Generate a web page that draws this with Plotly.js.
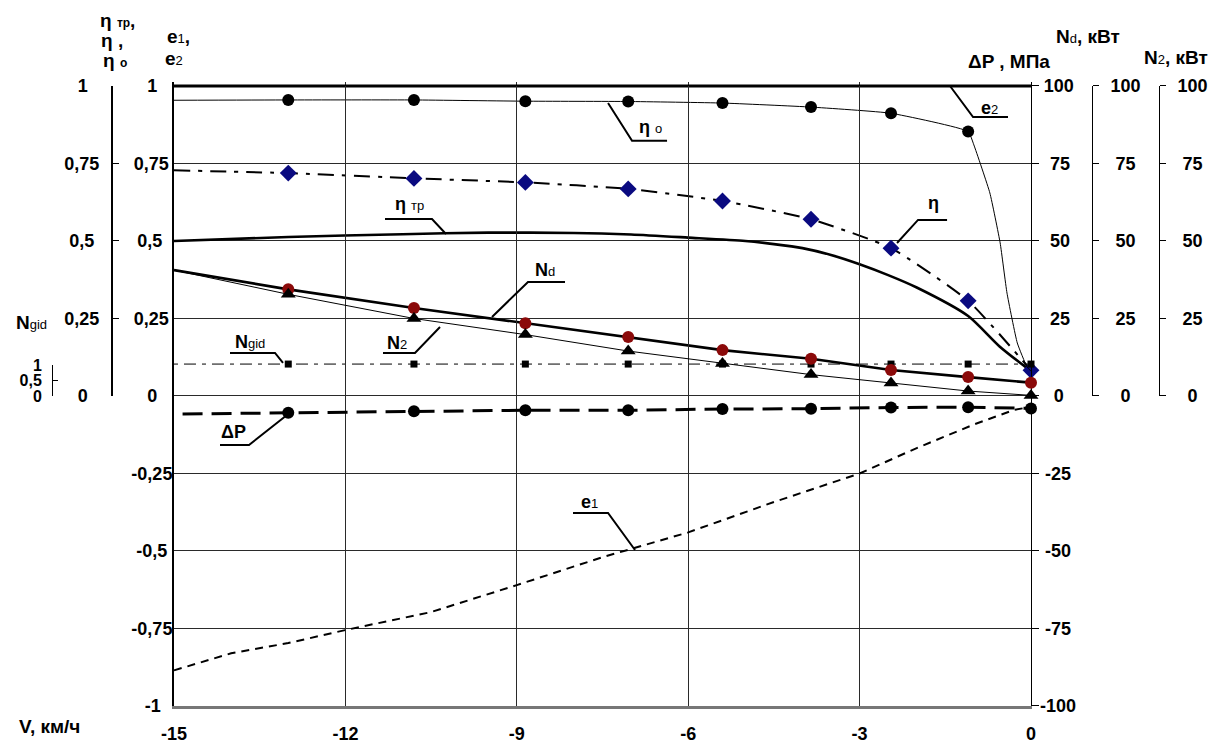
<!DOCTYPE html>
<html><head><meta charset="utf-8">
<script src="https://cdn.plot.ly/plotly-3.0.1.min.js"></script>
<style>body{margin:0;background:#fff}#chart{width:1221px;height:747px}</style>
</head><body><div id="chart"></div>
<script>
// ---------- DATA ----------
const speedTicks = [-15, -12, -9, -6, -3, 0];
const speedTickText = ['-15', '-12', '-9', '-6', '-3', '0'];
const eTickVals = [-1, -0.75, -0.5, -0.25, 0, 0.25, 0.5, 0.75, 1];
const eTickText = ['-1', '-0,75', '-0,5', '-0,25', '0', '0,25', '0,5', '0,75', '1'];
const etaTickVals = [0, 0.25, 0.5, 0.75, 1];
const etaTickText = ['0', '0,25', '0,5', '0,75', '1'];
const ngidTickVals = [0, 0.5, 1];
const ngidTickText = ['0', '0,5', '1'];
const dpTickVals = [-100, -75, -50, -25, 0, 25, 50, 75, 100];
const dpTickText = ['-100', '-75', '-50', '-25', '0', '25', '50', '75', '100'];
const nTickVals = [0, 25, 50, 75, 100];
const nTickText = ['0', '25', '50', '75', '100'];

// measured speeds, km/h
const speedPts = [-13, -10.8, -8.85, -7.05, -5.4, -3.85, -2.45, -1.1, 0];

// η о
const etaO_x = [-15, -13, -10.8, -8.85, -7.05, -5.4, -3.85, -2.45, -1.1, -1.0, -0.72, -0.54, -0.42, -0.24, -0.07, 0];
const etaO_y = [0.954, 0.955, 0.955, 0.951, 0.950, 0.945, 0.932, 0.912, 0.853, 0.81, 0.655, 0.494, 0.332, 0.171, 0.094, 0.08];
const etaO_ptsX = [-13, -10.8, -8.85, -7.05, -5.4, -3.85, -2.45, -1.1];
const etaO_ptsY = [0.955, 0.955, 0.951, 0.950, 0.945, 0.932, 0.912, 0.853];
// η
const eta_x = [-15, -13, -10.8, -8.85, -7.05, -5.4, -3.85, -2.45, -1.1, 0];
const eta_y = [0.728, 0.719, 0.702, 0.689, 0.668, 0.629, 0.570, 0.477, 0.307, 0.083];
const eta_pts = [0.719, 0.702, 0.689, 0.668, 0.629, 0.570, 0.477, 0.307, 0.083];
// η тр
const etaTr_x = [-15, -13, -11, -9.5, -8, -7, -6, -5, -4.5, -4, -3.5, -3, -2.5, -2, -1.1, -0.55, 0];
const etaTr_y = [0.5, 0.513, 0.522, 0.527, 0.526, 0.521, 0.511, 0.5, 0.49, 0.477, 0.455, 0.425, 0.39, 0.35, 0.258, 0.16, 0.08];
// Nd, kW
const nd_x = [-15, -13, -10.8, -8.85, -7.05, -5.4, -3.85, -2.45, -1.1, 0];
const nd_y = [40.6, 34.4, 28.4, 23.5, 19.0, 14.8, 12.0, 8.4, 6.1, 4.3];
const nd_pts = [34.4, 28.4, 23.5, 19.0, 14.8, 12.0, 8.4, 6.1, 4.3];
// N2, kW
const n2_x = [-15, -13, -10.8, -8.85, -7.05, -5.4, -3.85, -2.45, -1.1, 0];
const n2_y = [40.6, 32.8, 25.0, 19.8, 14.5, 10.5, 6.9, 4.2, 1.6, 0.2];
const n2_pts = [32.8, 25.0, 19.8, 14.5, 10.5, 6.9, 4.2, 1.6, 0.2];
// Ngid
const ngid_x = [-15, 0];
const ngid_y = [1.03, 1.03];
const ngid_pts = [1.03, 1.03, 1.03, 1.03, 1.03, 1.03, 1.03, 1.03, 1.03];
// ΔP, MPa
const dp_x = [-14.85, -13, -10.8, -8.85, -7.05, -5.4, -3.85, -2.45, -1.1, 0];
const dp_y = [-5.8, -5.4, -4.9, -4.6, -4.6, -4.2, -4.1, -3.7, -3.6, -4.0];
const dp_pts = [-5.4, -4.9, -4.6, -4.6, -4.2, -4.1, -3.7, -3.6, -4.0];
// e1, e2
const e1_x = [-15, -14, -13, -12, -10.5, -9, -7.5, -6, -4.5, -3, -2, -1, -0.3, 0];
const e1_y = [-0.885, -0.83, -0.797, -0.755, -0.697, -0.61, -0.52, -0.44, -0.342, -0.25, -0.168, -0.092, -0.045, -0.035];
const e2_x = [-15, 0];
const e2_y = [1, 1];

// ---------- STYLE ----------
const FF = 'Liberation Sans, Arial, sans-serif';
const TS = 18;
const tf = {family: FF, size: TS, color: '#000', weight: 'bold'};
const GRID = '#2a2a2a';

// centre tick labels in their column (pad with typographic spaces)
const ctx = document.createElement('canvas').getContext('2d');
function centred(arr, size, side) {
  ctx.font = 'bold ' + size + 'px "Liberation Sans"';
  const w = arr.map(s => ctx.measureText(s).width);
  const maxW = Math.max(...w);
  const sp = ['\u2007', '\u2008', '\u2009', '\u200A'].map(c => [c, ctx.measureText(c).width]).filter(s => s[1] > 0.5);
  return arr.map((s, i) => {
    let need = (maxW - w[i]) / 2, pad = '';
    for (const [c, cw] of sp) { while (need >= cw * 0.7) { pad += c; need -= cw; } }
    return side === 'left' ? s + pad : pad + s;
  });
}

const traces = [
  {x: e1_x, y: e1_y, mode: 'lines', line: {color: '#000', width: 2, dash: '8px,6px'}},
  {x: dp_x, y: dp_y, yaxis: 'y6', mode: 'lines', line: {color: '#000', width: 3, dash: '20px,9px'}},
  {x: speedPts, y: dp_pts, yaxis: 'y6', mode: 'markers', marker: {symbol: 'circle', size: 12, color: '#000'}, cliponaxis: false},
  {x: ngid_x, y: ngid_y, yaxis: 'y7', mode: 'lines', line: {color: '#000', width: 1, dash: '4px,6px,12px,6px'}},
  {x: speedPts, y: ngid_pts, yaxis: 'y7', mode: 'markers', marker: {symbol: 'square', size: 7, color: '#000'}, cliponaxis: false},
  {x: n2_x, y: n2_y, yaxis: 'y5', mode: 'lines', line: {color: '#000', width: 1}},
  {x: speedPts, y: n2_pts, yaxis: 'y5', mode: 'markers', marker: {symbol: 'triangle-up', size: 13, color: '#000'}, cliponaxis: false},
  {x: nd_x, y: nd_y, yaxis: 'y4', mode: 'lines', line: {color: '#000', width: 2.6}},
  {x: speedPts, y: nd_pts, yaxis: 'y4', mode: 'markers', marker: {symbol: 'circle', size: 12, color: '#8b0a0a'}, cliponaxis: false},
  {x: etaTr_x, y: etaTr_y, mode: 'lines', line: {color: '#000', width: 2.6, shape: 'spline', smoothing: 0.7}},
  {x: eta_x, y: eta_y, mode: 'lines', line: {color: '#000', width: 2, dash: '16px,8px,4px,8px', shape: 'spline', smoothing: 0.5}},
  {x: speedPts, y: eta_pts, mode: 'markers', marker: {symbol: 'diamond', size: 13, color: '#0a0a80'}, cliponaxis: false},
  {x: etaO_x, y: etaO_y, mode: 'lines', line: {color: '#000', width: 1, shape: 'spline', smoothing: 0.4}},
  {x: etaO_ptsX, y: etaO_ptsY, mode: 'markers', marker: {symbol: 'circle', size: 12, color: '#000'}, cliponaxis: false},
  {x: e2_x, y: e2_y, mode: 'lines', line: {color: '#000', width: 3}},
  // carriers for the decorative left scales
  {x: [-15], y: [0], yaxis: 'y2', mode: 'lines', line: {width: 0}},
  {x: [-15], y: [0], yaxis: 'y3', mode: 'lines', line: {width: 0}}
].map(t => Object.assign({showlegend: false, hoverinfo: 'skip'}, t));

// ---------- LABELS ----------
const sm = s => '<span style="font-size:13px;font-weight:normal">' + s + '</span>';
const labels = [
  {t: 'e' + sm('2'), x: -0.72, y: 0.929, p: [[-1.417, 1.0], [-1.014, 0.9], [-0.402, 0.9]]},
  {t: 'η ' + sm('о'), x: -6.66, y: 0.868, p: [[-7.403, 0.945], [-6.983, 0.823], [-6.37, 0.823]]},
  {t: 'η ' + sm('тр'), x: -10.87, y: 0.619, p: [[-11.307, 0.571], [-10.484, 0.571], [-10.239, 0.5226]]},
  {t: 'η', x: -1.71, y: 0.622, p: [[-2.345, 0.4935], [-1.977, 0.568], [-1.469, 0.568]]},
  {t: 'N' + sm('d'), x: -8.5, y: 0.405, p: [[-9.434, 0.2548], [-8.804, 0.3677], [-8.156, 0.3677]]},
  {t: 'N' + sm('2'), x: -11.1, y: 0.172, p: [[-11.342, 0.1387], [-10.782, 0.1387], [-10.344, 0.2226]]},
  {t: 'N' + sm('gid'), x: -13.67, y: 0.175, p: [[-14.02, 0.1387], [-13.232, 0.1387], [-13.092, 0.1065]]},
  {t: 'ΔP', x: -13.95, y: -0.116, p: [[-14.195, -0.158], [-13.687, -0.158], [-13.022, -0.0613]]},
  {t: 'e' + sm('1'), x: -7.72, y: -0.342, p: [[-8.016, -0.3774], [-7.403, -0.3774], [-6.931, -0.4968]]}
];
const annotations = labels.map(l => ({x: l.x, y: l.y, xref: 'x', yref: 'y', text: l.t, showarrow: false,
  font: {family: FF, size: 18, color: '#000', weight: 'bold'}, xanchor: 'center', yanchor: 'middle'}));
const shapes = labels.map(l => ({type: 'path', xref: 'x', yref: 'y',
  path: 'M' + l.p.map(q => q[0] + ',' + q[1]).join(' L'), line: {color: '#000', width: 2}}));

const titles = [
  {t: 'η <span style="font-size:12px">тр</span>,', x: 0.0899, y: 0.9862},
  {t: 'η ,', x: 0.0849, y: 0.9587},
  {t: 'η <span style="font-size:12px">о</span>', x: 0.0874, y: 0.9299},
  {t: 'e' + sm('1') + ',', x: 0.1399, y: 0.9642},
  {t: 'e' + sm('2'), x: 0.1366, y: 0.9326},
  {t: 'N' + sm('d') + ', кВт', x: 0.8976, y: 0.9629},
  {t: 'ΔP , МПа', x: 0.8318, y: 0.9285},
  {t: 'N' + sm('2') + ', кВт', x: 0.9709, y: 0.934},
  {t: 'N' + sm('gid'), x: 0.0183, y: 0.5708},
  {t: 'V, км/ч', x: 0.0333, y: 0.0138}
];
titles.forEach(a => annotations.push({x: a.x, y: a.y, xref: 'paper', yref: 'paper', text: a.t, showarrow: false,
  font: {family: FF, size: 19, color: '#000', weight: 'bold'}, xanchor: 'center', yanchor: 'middle'}));

const yMainDom = [0.042641, 0.90058];
const upperDom = [0.469051, 0.895461];

const layout = {
  width: 1221, height: 747,
  margin: {l: 10, r: 10, t: 10, b: 10},
  paper_bgcolor: '#fff', plot_bgcolor: 'rgba(0,0,0,0)',
  showlegend: false,
  xaxis: {domain: [0.13655, 0.85012], range: [-15, 0], tickvals: speedTicks, ticktext: speedTickText,
    showgrid: true, gridcolor: GRID, gridwidth: 1, zeroline: false, showline: true, linecolor: '#777', linewidth: 3,
    ticks: '', tickfont: tf, ticklabelstandoff: 9, fixedrange: true},
  yaxis: {domain: yMainDom, range: [-1, 1.012], tickvals: eTickVals, ticktext: centred(eTickText, TS, 'left'),
    showgrid: true, gridcolor: GRID, gridwidth: 1, zeroline: false, showline: true, linecolor: '#000', linewidth: 2,
    ticks: '', tickfont: tf, ticklabelstandoff: -4},
  yaxis2: {domain: upperDom, range: [0, 1], anchor: 'free', position: 0.0841, side: 'left',
    tickvals: etaTickVals, ticktext: centred(etaTickText, TS, 'left'), showgrid: false, zeroline: false, showline: true,
    linecolor: '#000', linewidth: 1.5, ticks: 'inside', ticklen: 6, tickcolor: '#000', tickfont: tf, ticklabelstandoff: 8},
  yaxis3: {domain: [0.469051, 0.511692], range: [0, 1], anchor: 'free', position: 0.03497, side: 'left',
    tickvals: ngidTickVals, ticktext: ngidTickText, showgrid: false, zeroline: false, showline: true,
    linecolor: '#000', linewidth: 1, ticks: 'inside', ticklen: 5, tickcolor: '#000',
    tickfont: {family: FF, size: 16, color: '#000', weight: 'bold'}, ticklabelstandoff: 7},
  yaxis4: {domain: upperDom, range: [0, 100], anchor: 'free', position: 0.90092, side: 'right',
    tickvals: nTickVals, ticktext: centred(nTickText, TS, 'right'), showgrid: false, zeroline: false, showline: true,
    linecolor: '#000', linewidth: 1, ticks: 'outside', ticklen: 6, tickcolor: '#000', tickfont: tf, ticklabelstandoff: 8},
  yaxis5: {domain: upperDom, range: [0, 100], anchor: 'free', position: 0.9567, side: 'right',
    tickvals: nTickVals, ticktext: centred(nTickText, TS, 'right'), showgrid: false, zeroline: false, showline: true,
    linecolor: '#000', linewidth: 1, ticks: 'outside', ticklen: 6, tickcolor: '#000', tickfont: tf, ticklabelstandoff: 8},
  yaxis6: {overlaying: 'y', side: 'right', anchor: 'x', range: [-100, 101.2], tickvals: dpTickVals, ticktext: centred(dpTickText, TS, 'right'),
    showgrid: false, zeroline: false, showline: true, linecolor: '#000', linewidth: 1.5,
    ticks: 'outside', ticklen: 7, tickcolor: '#000', tickfont: tf, ticklabelstandoff: -3},
  yaxis7: {overlaying: 'y', range: [-10, 10.12], visible: false},
  annotations: annotations,
  shapes: shapes
};

Plotly.newPlot('chart', traces, layout, {displayModeBar: false, staticPlot: true});
</script>
</body></html>
